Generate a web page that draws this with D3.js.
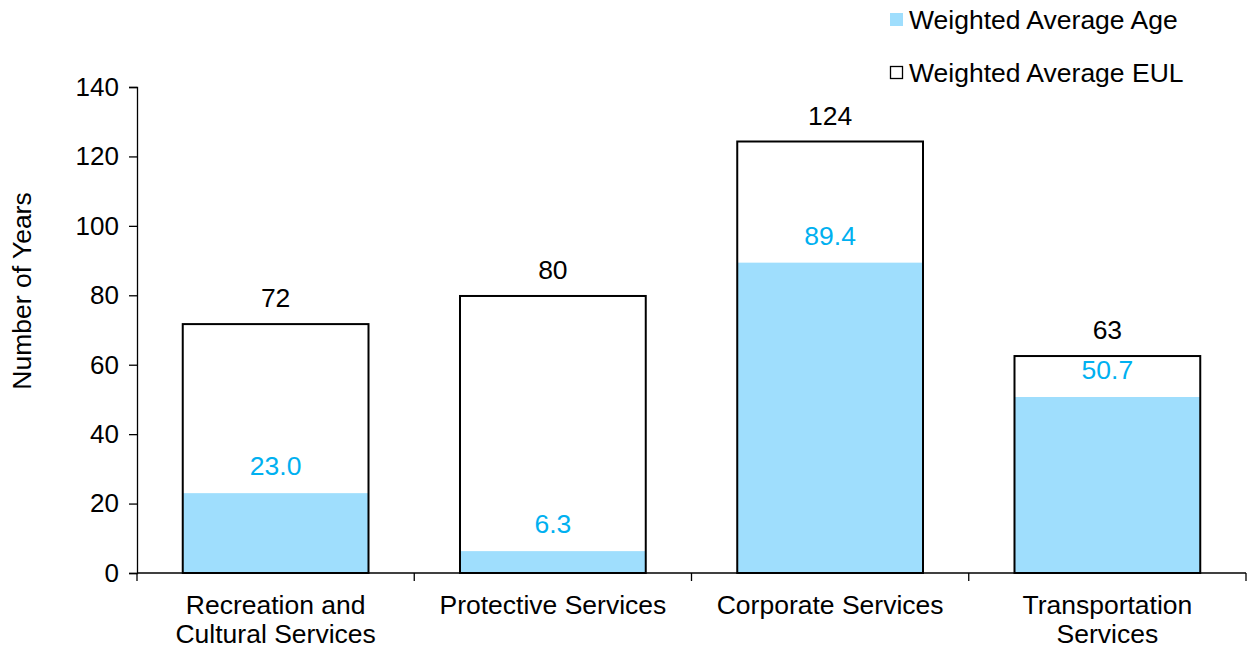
<!DOCTYPE html>
<html><head><meta charset="utf-8">
<script src="https://cdn.jsdelivr.net/npm/d3@7"></script>
<style>body{margin:0;background:#fff}text{font-family:"Liberation Sans",Arial,sans-serif}</style>
</head><body>
<svg id="c" width="1247" height="649"></svg>
<script>
const categories = [["Recreation and","Cultural Services"],["Protective Services"],["Corporate Services"],["Transportation","Services"]];
const eulValues = [71.7, 79.8, 124.3, 62.5];
const eulLabels = ["72","80","124","63"];
const ageValues = [23.0, 6.3, 89.4, 50.7];
const yTicks = [0,20,40,60,80,100,120,140];
const seriesNames = ["Weighted Average Age","Weighted Average EUL"];

(function(){
const svg = d3.select("#c");
const mLeft = 137, mRight = 1246, mTop = 87, mBottom = 573;
const FS = 26.5;
const x = d3.scaleBand().domain(d3.range(categories.length)).range([mLeft, mRight]).paddingInner(0.33).paddingOuter(0.165);
const y = d3.scaleLinear().domain([0,140]).range([mBottom, mTop]);
const ageFill = "#9fdefd", ageText = "#00b0f0";

// y axis
const ya = svg.append("g").attr("transform",`translate(${mLeft},0)`)
  .call(d3.axisLeft(y).tickValues(yTicks).tickSize(8).tickPadding(10));
ya.select(".domain").attr("stroke","#000").attr("stroke-width",1.3);
ya.selectAll(".tick line").attr("stroke","#000").attr("stroke-width",1.3);
ya.selectAll(".tick text").attr("font-size",26).attr("fill","#000").attr("font-family","Liberation Sans, Arial");

svg.append("text").attr("transform",`translate(31,291) rotate(-90)`)
  .attr("text-anchor","middle").attr("font-size",FS).attr("fill","#000").text("Number of Years");

// bars
const g = svg.append("g");
g.selectAll(".age").data(ageValues).join("rect")
  .attr("x",(d,i)=>x(i)).attr("width",x.bandwidth())
  .attr("y",d=>y(d)).attr("height",d=>mBottom-y(d)).attr("fill",ageFill);
g.selectAll(".eul").data(eulValues).join("rect")
  .attr("x",(d,i)=>x(i)).attr("width",x.bandwidth())
  .attr("y",d=>y(d)).attr("height",d=>mBottom-y(d)).attr("fill","none")
  .attr("stroke","#000").attr("stroke-width",2);

g.selectAll(".el").data(eulValues).join("text")
  .attr("x",(d,i)=>x(i)+x.bandwidth()/2).attr("y",d=>y(d)-17)
  .attr("text-anchor","middle").attr("font-size",FS).attr("fill","#000")
  .text((d,i)=>eulLabels[i]);
g.selectAll(".al").data(ageValues).join("text")
  .attr("x",(d,i)=>x(i)+x.bandwidth()/2).attr("y",d=>y(d)-18)
  .attr("text-anchor","middle").attr("font-size",FS).attr("fill",ageText)
  .text(d=>d.toFixed(1));

// x axis
const xs = d3.scaleLinear().domain([0,categories.length]).range([mLeft,mRight]);
svg.append("line").attr("x1",mLeft).attr("x2",mRight).attr("y1",mBottom).attr("y2",mBottom).attr("stroke","#000").attr("stroke-width",1.3);
svg.selectAll(".xt").data(d3.range(categories.length+1)).join("line")
  .attr("x1",d=>xs(d)).attr("x2",d=>xs(d)).attr("y1",mBottom).attr("y2",mBottom+8).attr("stroke","#000").attr("stroke-width",1.3);
svg.selectAll(".xl").data(categories).join("text")
  .attr("x",(d,i)=>x(i)+x.bandwidth()/2).attr("y",614)
  .attr("text-anchor","middle").attr("font-size",FS).attr("fill","#000")
  .each(function(d){ const t=d3.select(this); d.forEach((s,k)=>t.append("tspan").attr("x",t.attr("x")).attr("dy",k?29:0).text(s)); });

// legend
const lg = svg.append("g");
lg.append("rect").attr("x",890).attr("y",13).attr("width",13).attr("height",13).attr("fill",ageFill);
lg.append("text").attr("x",909).attr("y",29).attr("font-size",FS).attr("fill","#000").text(seriesNames[0]);
lg.append("rect").attr("x",890.5).attr("y",66.5).attr("width",12).attr("height",12).attr("fill","none").attr("stroke","#000").attr("stroke-width",1.3);
lg.append("text").attr("x",909).attr("y",82).attr("font-size",FS).attr("fill","#000").text(seriesNames[1]);
})();
</script>
</body></html>
